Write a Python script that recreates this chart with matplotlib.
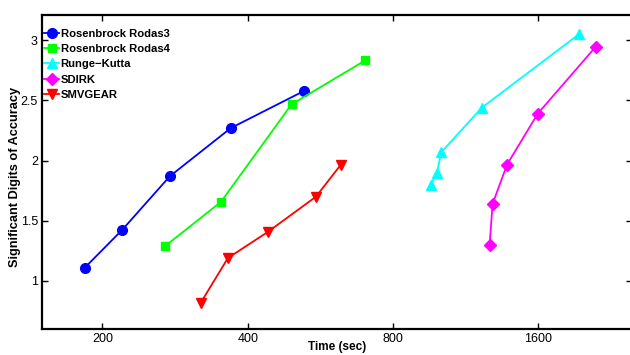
import matplotlib
matplotlib.use("Agg")
import matplotlib.pyplot as plt

plt.rcParams['font.family'] = ['Liberation Sans', 'DejaVu Sans']

labels = ["Rosenbrock Rodas3", "Rosenbrock Rodas4", "Runge\u2212Kutta", "SDIRK", "SMVGEAR"]
colors = ["#0000ff", "#00ff00", "#00ffff", "#ff00ff", "#ff0000"]
markers = ["o", "s", "^", "D", "v"]
msizes = [7, 5.5, 7, 6, 7]

rodas3_t = [184, 220, 276, 369, 524]
rodas3_y = [1.11, 1.425, 1.87, 2.27, 2.58]
rodas4_t = [270, 352, 493, 701]
rodas4_y = [1.29, 1.656, 2.467, 2.833]
rk_t = [959, 986, 1007, 1222, 1941]
rk_y = [1.80, 1.897, 2.07, 2.44, 3.05]
sdirk_t = [1268, 1286, 1378, 1595, 2101]
sdirk_y = [1.30, 1.64, 1.967, 2.39, 2.944]
smv_t = [320, 364, 440, 554, 624]
smv_y = [0.82, 1.19, 1.406, 1.70, 1.967]

series = [(rodas3_t, rodas3_y), (rodas4_t, rodas4_y), (rk_t, rk_y),
          (sdirk_t, sdirk_y), (smv_t, smv_y)]

xticks = [200, 400, 800, 1600]
yticks = [1, 1.5, 2, 2.5, 3]

fig = plt.figure(figsize=(6.3, 3.55), dpi=100)
ax = fig.add_axes([42/630, 1 - 329/355, 590/630, 314/355])

for (t, y), lab, c, m, ms in zip(series, labels, colors, markers, msizes):
    ax.plot(t, y, color=c, marker=m, markersize=ms, linewidth=1.3,
            markeredgecolor=c, markerfacecolor=c, label=lab)

ax.set_xscale('log')
ax.set_xlim(150, 2500)
ax.set_ylim(0.6, 3.21)
ax.set_xticks(xticks)
ax.set_xticklabels([str(v) for v in xticks])
ax.minorticks_off()
ax.set_yticks(yticks)
ax.set_yticklabels(['1', '1.5', '2', '2.5', '3'])
ax.tick_params(direction='in', top=True, right=True, length=4, width=1,
               labelsize=9, pad=3)
for s in ax.spines.values():
    s.set_linewidth(1.6)

ax.set_xlabel('Time (sec)', fontsize=8.5, fontweight='bold')
ax.set_ylabel('Significant Digits of Accuracy', fontsize=9.2, fontweight='bold')
ax.xaxis.set_label_coords(0.5, -0.037)
ax.yaxis.set_label_coords(-0.036, 0.484)

leg = ax.legend(loc='upper left', bbox_to_anchor=(0.004, 0.956), frameon=False,
                prop={'weight': 'bold', 'size': 8.1},
                handlelength=1.3, handletextpad=0.15, labelspacing=0.47,
                borderaxespad=0, borderpad=0)

fig.savefig('out.png', dpi=100)
